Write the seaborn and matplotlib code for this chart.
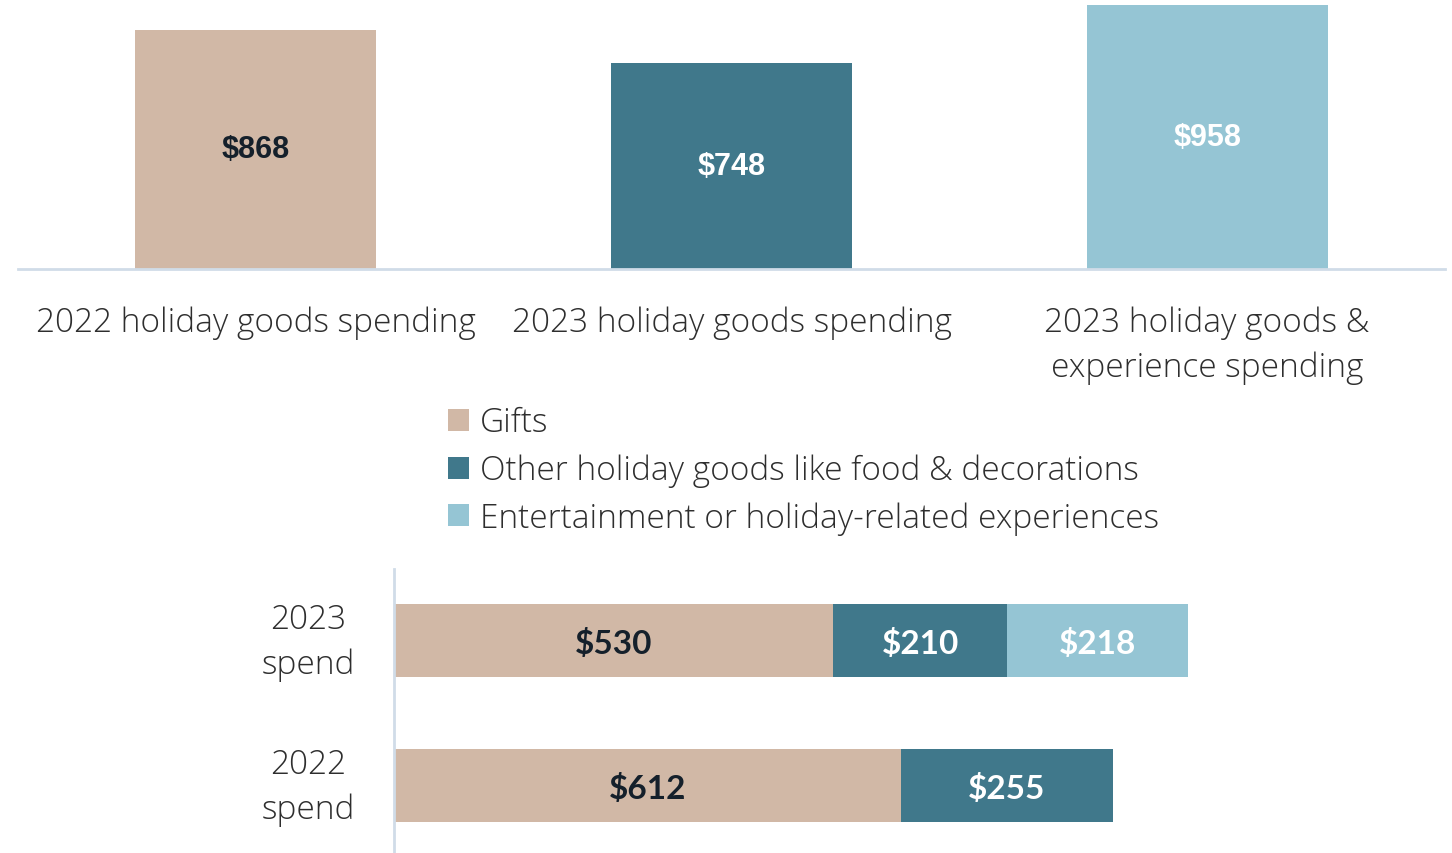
import pandas as pd
import seaborn as sns
import matplotlib.pyplot as plt
from matplotlib.patches import Patch
from matplotlib.transforms import ScaledTranslation

# === Data ===
top_labels = ["2022 holiday goods spending", "2023 holiday goods spending",
              "2023 holiday goods &\nexperience spending"]
top_values = [868, 748, 958]

legend_labels = ["Gifts", "Other holiday goods like food & decorations",
                 "Entertainment or holiday-related experiences"]

years = ["2023\nspend", "2022\nspend"]
gifts = [530, 612]
other_goods = [210, 255]
experiences = [218, 0]

# === Style ===
TAN = "#D1B8A6"
TEAL = "#40788B"
LIGHT = "#95C5D4"
DARK_TXT = "#15202B"
LABEL_TXT = "#2E2E2E"
AXIS_CLR = "#D0DCE8"
colors = [TAN, TEAL, LIGHT]
LABEL_FONT = ["Open Sans", "DejaVu Sans"]

sns.set_style("white")
plt.rcParams["font.family"] = ["Lato", "DejaVu Sans"]

fig = plt.figure(figsize=(14.52, 8.54), dpi=100)

# === 1. Totals bar chart ===
ax1 = fig.add_axes([18 / 1452, 1 - 270 / 854, (1445 - 18) / 1452, (270 - 6) / 854])
sns.barplot(x=top_labels, y=top_values, hue=top_labels, palette=colors,
            width=0.506, legend=False, saturation=1, linewidth=0,
            edgecolor="none", ax=ax1)
ax1.set_xlim(-0.5, 2.5)
ax1.set_ylim(0, max(top_values))
ax1.set_yticks([])
ax1.set_ylabel("")
for side in ["top", "left", "right"]:
    ax1.spines[side].set_visible(False)
ax1.spines["bottom"].set_color(AXIS_CLR)
ax1.spines["bottom"].set_linewidth(2)
ax1.tick_params(axis="x", length=0, pad=26)
ax1.set_xticks(range(len(top_labels)))
ax1.set_xticklabels(top_labels, fontsize=24, color=LABEL_TXT, fontweight="light",
                    family=LABEL_FONT, linespacing=1.45)

txt_colors = [DARK_TXT, "white", "white"]
for cont, c in zip(ax1.containers, txt_colors):
    lbls = ax1.bar_label(cont, labels=[f"${v:.0f}" for v in cont.datavalues],
                         label_type="center", color=c, fontsize=22, fontweight="bold",
                         family=["Liberation Sans", "DejaVu Sans"])
    for t in lbls:
        t.set_transform(t.get_transform() + ScaledTranslation(0, -2 / 72, fig.dpi_scale_trans))

# === 2. Legend ===
handles = [Patch(facecolor=c, edgecolor="none") for c in colors]
fig.legend(handles, legend_labels, loc="upper left",
           bbox_to_anchor=(448 / 1452, 1 - 407 / 854), frameon=False,
           handlelength=0.64, handleheight=0.64, handletextpad=0.32,
           labelspacing=0.43, borderpad=0, borderaxespad=0,
           prop={"size": 24, "weight": "light", "family": LABEL_FONT},
           labelcolor=LABEL_TXT)

# === 3. Stacked breakdown ===
df = pd.DataFrame({"year": years, "gifts": gifts, "other": other_goods, "exp": experiences})
df["cum_other"] = df["gifts"] + df["other"]
df["cum_exp"] = df["cum_other"] + df["exp"]

ax2 = fig.add_axes([394 / 1452, 0, (1445 - 394) / 1452, (854 - 570) / 854])
has_exp = df[df["exp"] > 0]
bar_kw = dict(order=years, saturation=1, width=0.5, linewidth=0, edgecolor="none", ax=ax2)
sns.barplot(data=has_exp, x="cum_exp", y="year", color=LIGHT, **bar_kw)
sns.barplot(data=df, x="cum_other", y="year", color=TEAL, **bar_kw)
sns.barplot(data=df, x="gifts", y="year", color=TAN, **bar_kw)
ax2.set_xlim(0, 1268)
ax2.set_ylim(1.466, -0.493)
ax2.set_xlabel("")
ax2.set_ylabel("")
ax2.set_xticks([])
for side in ["top", "bottom", "right"]:
    ax2.spines[side].set_visible(False)
ax2.spines["left"].set_color(AXIS_CLR)
ax2.spines["left"].set_linewidth(2)
ax2.tick_params(axis="y", length=0, pad=28)
ax2.set_yticks(range(len(years)))
ax2.set_yticklabels(years, fontsize=24, color=LABEL_TXT, fontweight="light",
                    family=LABEL_FONT, linespacing=1.45, multialignment="center")
shift = ScaledTranslation(0, 6 / 72, fig.dpi_scale_trans)
for lbl in ax2.get_yticklabels():
    lbl.set_transform(lbl.get_transform() + shift)

for i, row in df.iterrows():
    segs = [(0, row["gifts"], DARK_TXT),
            (row["gifts"], row["other"], "white"),
            (row["cum_other"], row["exp"], "white")]
    for start, val, c in segs:
        if val <= 0:
            continue
        ax2.text(start + val / 2, i + 0.02, f"${val}", ha="center", va="center",
                 color=c, fontsize=24, fontweight="bold")

fig.savefig("out.png", dpi=100)
